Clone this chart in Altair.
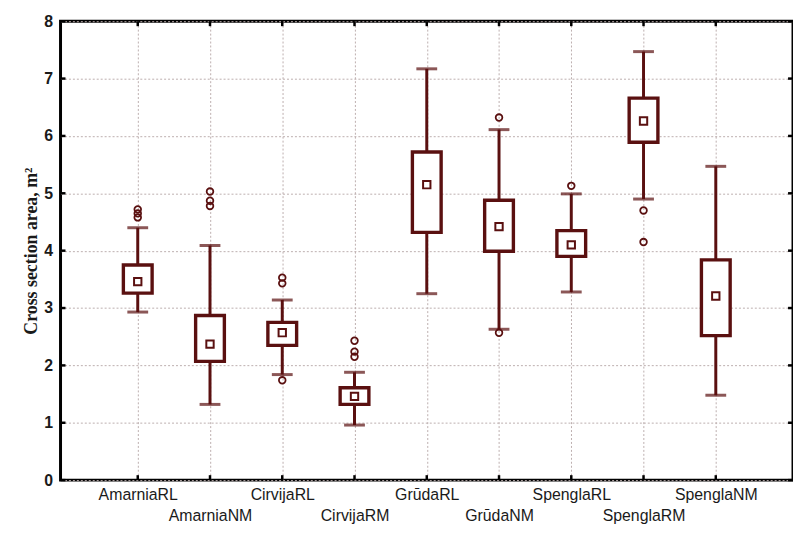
import altair as alt
import pandas as pd

groups = ["AmarniaRL", "AmarniaNM", "CirvijaRL", "CirvijaRM", "GrūdaRL",
          "GrūdaNM", "SpenglaRL", "SpenglaRM", "SpenglaNM"]
whisker_low = [2.93, 1.32, 1.84, 0.96, 3.25, 2.63, 3.28, 4.90, 1.48]
q1 = [3.26, 2.07, 2.35, 1.32, 4.32, 3.99, 3.90, 5.89, 2.52]
median = [3.46, 2.37, 2.57, 1.46, 5.15, 4.42, 4.10, 6.26, 3.21]
q3 = [3.75, 2.87, 2.75, 1.61, 5.72, 4.88, 4.35, 6.66, 3.84]
whisker_high = [4.40, 4.09, 3.14, 1.88, 7.17, 6.11, 4.99, 7.47, 5.47]

outlier_groups = ["AmarniaRL", "AmarniaRL", "AmarniaRL",
                  "AmarniaNM", "AmarniaNM", "AmarniaNM",
                  "CirvijaRL", "CirvijaRL", "CirvijaRL",
                  "CirvijaRM", "CirvijaRM", "CirvijaRM",
                  "GrūdaNM", "GrūdaNM",
                  "SpenglaRL",
                  "SpenglaRM", "SpenglaRM"]
outlier_values = [4.72, 4.65, 4.58,
                  5.03, 4.87, 4.78,
                  3.53, 3.43, 1.74,
                  2.43, 2.24, 2.15,
                  6.32, 2.57,
                  5.13,
                  4.70, 4.15]

y_ticks = [0, 1, 2, 3, 4, 5, 6, 7, 8]
x_ticks = list(range(1, len(groups) + 1))

COLOR = "#5a1010"
W, H = 739, 463

box_df = pd.DataFrame({
    "group": groups,
    "pos": x_ticks,
    "low": whisker_low,
    "q1": q1,
    "median": median,
    "q3": q3,
    "high": whisker_high,
})
out_df = pd.DataFrame({
    "pos": [groups.index(g) + 1 for g in outlier_groups],
    "value": outlier_values,
})
ytick_df = pd.DataFrame({"v": y_ticks})
xtick_df = pd.DataFrame({"p": x_ticks})

label_js = "[" + ",".join("'" + g + "'" for g in groups) + "]"
label_expr = (f"datum.value % 2 == 0 ? ['', {label_js}[datum.value - 1]] "
              f": {label_js}[datum.value - 1]")

xscale = alt.Scale(domain=[0, len(groups) + 1], nice=False, zero=False)
yscale = alt.Scale(domain=[0, 8], nice=False)

x_axis = alt.Axis(values=x_ticks, labelExpr=label_expr, title=None,
                  grid=True, gridDash=[2, 2], gridColor="#bcaeae", gridWidth=1,
                  ticks=False, domain=False, labelFont="Liberation Sans",
                  labelFontSize=16, labelColor="#1a1a1a", labelPadding=7,
                  labelLineHeight=21, labelBaseline="top",
                  labelOverlap=False, labelBound=False)
y_axis = alt.Axis(values=y_ticks, format="d", title="Cross section area, m²",
                  grid=True, gridDash=[2, 2], gridColor="#bcaeae", gridWidth=1,
                  ticks=False, domain=False, labelFont="Liberation Sans",
                  labelFontSize=16, labelFontWeight="bold", labelColor="#1a1a1a",
                  labelPadding=8, titleFont="Liberation Serif", titleFontSize=18,
                  titleFontWeight="bold", titleColor="#1a1a1a", titlePadding=3,
                  labelOverlap=False)

base = alt.Chart(box_df)

whiskers = base.mark_rule(color=COLOR, strokeWidth=3).encode(
    x=alt.X("pos:Q", scale=xscale, axis=x_axis),
    y=alt.Y("low:Q", scale=yscale, axis=y_axis),
    y2="high:Q",
)
caps_low = base.mark_tick(color=COLOR, thickness=3, size=21, orient="horizontal").encode(
    x=alt.X("pos:Q", scale=xscale), y=alt.Y("low:Q", scale=yscale))
caps_high = base.mark_tick(color=COLOR, thickness=3, size=21, orient="horizontal").encode(
    x=alt.X("pos:Q", scale=xscale), y=alt.Y("high:Q", scale=yscale))
boxes = base.mark_bar(size=29, fill="white", stroke=COLOR, strokeWidth=3.4).encode(
    x=alt.X("pos:Q", scale=xscale), y=alt.Y("q1:Q", scale=yscale), y2="q3:Q")
medians = base.mark_square(size=55, filled=False, color=COLOR, strokeWidth=2,
                           opacity=1).encode(
    x=alt.X("pos:Q", scale=xscale), y=alt.Y("median:Q", scale=yscale))
outliers = alt.Chart(out_df).mark_point(shape="circle", size=45, filled=False,
                                        color=COLOR, strokeWidth=1.8, opacity=1).encode(
    x=alt.X("pos:Q", scale=xscale), y=alt.Y("value:Q", scale=yscale))

tick_style = dict(color="black", strokeWidth=2.5)
left_ticks = alt.Chart(ytick_df).mark_rule(**tick_style).encode(
    y=alt.Y("v:Q", scale=yscale), x=alt.value(0), x2=alt.value(5))
right_ticks = alt.Chart(ytick_df).mark_rule(**tick_style).encode(
    y=alt.Y("v:Q", scale=yscale), x=alt.value(W), x2=alt.value(W - 5))
top_ticks = alt.Chart(xtick_df).mark_rule(**tick_style).encode(
    x=alt.X("p:Q", scale=xscale), y=alt.value(0), y2=alt.value(5))
bottom_ticks = alt.Chart(xtick_df).mark_rule(**tick_style).encode(
    x=alt.X("p:Q", scale=xscale), y=alt.value(H), y2=alt.value(H - 5))

chart = alt.layer(
    whiskers, caps_low, caps_high, boxes, medians, outliers,
    left_ticks, right_ticks, top_ticks, bottom_ticks,
).properties(
    width=W, height=H,
    autosize=alt.AutoSizeParams(type="none"),
    padding={"left": 53, "top": 11, "right": 0, "bottom": 50},
    background="white",
).configure_view(stroke="black", strokeWidth=3)

chart.save("out.html", embed_options={"renderer": "svg", "actions": False})
